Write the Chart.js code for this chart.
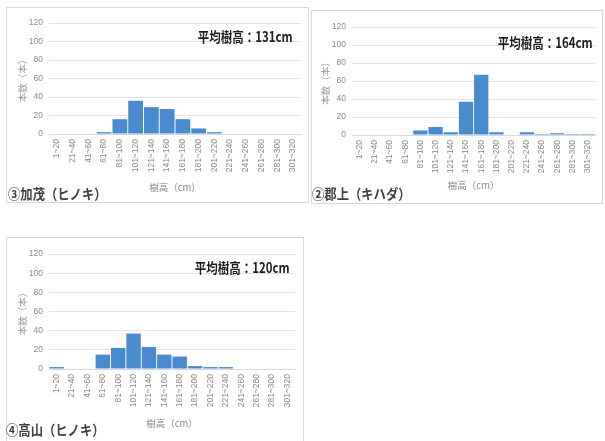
<!DOCTYPE html>
<html><head><meta charset="utf-8">
<script src="https://cdn.jsdelivr.net/npm/chart.js@4.4.1/dist/chart.umd.min.js"></script>
<style>
body{margin:0;width:605px;height:441px;overflow:hidden;background:#fff;position:relative;font-family:"Noto Sans CJK JP",sans-serif;}
.frame{position:absolute;border:1px solid #d9d9d9;box-sizing:border-box;}
.wrap{position:absolute;}
.txt{position:absolute;white-space:nowrap;z-index:5;}
.mean{font-size:14px;font-weight:bold;color:#1e1e1e;line-height:16px;transform:scaleX(0.82);transform-origin:right center;}
.site{font-size:14px;font-weight:bold;color:#404040;line-height:16px;transform:scaleX(0.88);transform-origin:left center;}
</style></head><body>
<div class="frame" style="left:6px;top:7px;width:303px;height:196px"></div>
<div class="frame" style="left:311px;top:10px;width:292px;height:194px"></div>
<div class="frame" style="left:6px;top:237px;width:298px;height:230px"></div>
<div class="wrap" style="left:6px;top:7px;width:303px;height:196px"><canvas id="c1"></canvas></div>
<div class="wrap" style="left:311px;top:10px;width:292px;height:194px"><canvas id="c2"></canvas></div>
<div class="wrap" style="left:6px;top:237px;width:298px;height:204px"><canvas id="c3"></canvas></div>
<div class="txt mean" id="m1" style="right:312px;top:28px"></div>
<div class="txt mean" id="m2" style="right:12px;top:34px"></div>
<div class="txt mean" id="m3" style="right:315px;top:259px"></div>
<div class="txt site" id="s1" style="left:8px;top:185px"></div>
<div class="txt site" id="s2" style="left:312px;top:185px"></div>
<div class="txt site" id="s3" style="left:6px;top:421px"></div>
<script>
// categories (tree height classes, cm)
const categories = ['1~20','21~40','41~60','61~80','81~100','101~120','121~140','141~160','161~180','181~200','201~220','221~240','241~260','261~280','281~300','301~320'];
// number of trees per class
const kamoCounts     = [0,0,0,2,16,36,29,27,16,6,2,0,0,0,0,0];
const gujoCounts     = [0,0,0,0,5,9,3,37,67,3,0,3,1,2,1,1];
const takayamaCounts = [2,0,0,15,22,37,23,15,13,3,2,2,0,0,0,0];
// texts
const siteNames  = ['③加茂（ヒノキ）','②郡上（キハダ）','④高山（ヒノキ）'];
const meanLabels = ['平均樹高：131cm','平均樹高：164cm','平均樹高：120cm'];
const xTitle = '樹高（cm）';
const yTitle = '本数（本）';
const yMin = 0, yMax = 120, yStep = 20;

siteNames.forEach((s,i)=>{document.getElementById('s'+(i+1)).textContent=s;});
meanLabels.forEach((s,i)=>{document.getElementById('m'+(i+1)).textContent=s;});

const barColor = '#4a8bd0';
const tickFont = {family:'"Liberation Sans", sans-serif', size:8.5};
const tickColor = '#8a8a8a';

function makeChart(id, values, geo){
  new Chart(document.getElementById(id), {
    type:'bar',
    data:{labels:categories, datasets:[{data:values, backgroundColor:barColor, borderWidth:0, barPercentage:1, categoryPercentage:0.94}]},
    options:{
      responsive:true, maintainAspectRatio:false, animation:false,
      layout:{padding:{left:0,right:geo.padRight,top:geo.padTop,bottom:0}},
      plugins:{legend:{display:false},tooltip:{enabled:false}},
      scales:{
        x:{
          grid:{display:false, drawTicks:false},
          border:{display:true,color:'#d9d9d9',width:1},
          ticks:{color:tickColor,font:tickFont,minRotation:90,maxRotation:90,padding:5,autoSkip:false},
          title:{display:true,text:xTitle,color:'#8a8a8a',font:{family:'"Noto Sans CJK JP", sans-serif',size:9.5},padding:{top:0,bottom:geo.xTitlePad}},
          afterFit:(sc)=>{sc.height=geo.xHeight;}
        },
        y:{
          min:yMin,max:yMax,
          ticks:{stepSize:yStep,color:tickColor,font:tickFont,padding:6},
          grid:{color:'#e3e3e3',drawTicks:false},
          border:{display:false},
          title:{display:true,text:yTitle,color:'#9a9a9a',font:{family:'"Noto Sans CJK JP", sans-serif',size:9.5},padding:{top:geo.yTitlePad,bottom:0}},
          afterFit:(sc)=>{sc.width=geo.yWidth;}
        }
      }
    }
  });
}
makeChart('c1', kamoCounts,     {padRight:8, padTop:16, xHeight:69, xTitlePad:10, yWidth:43, yTitlePad:11});
makeChart('c2', gujoCounts,     {padRight:4, padTop:17, xHeight:69, xTitlePad:13, yWidth:41, yTitlePad:9});
makeChart('c3', takayamaCounts, {padRight:9, padTop:17, xHeight:72, xTitlePad:12, yWidth:43, yTitlePad:11});
</script>
</body></html>
